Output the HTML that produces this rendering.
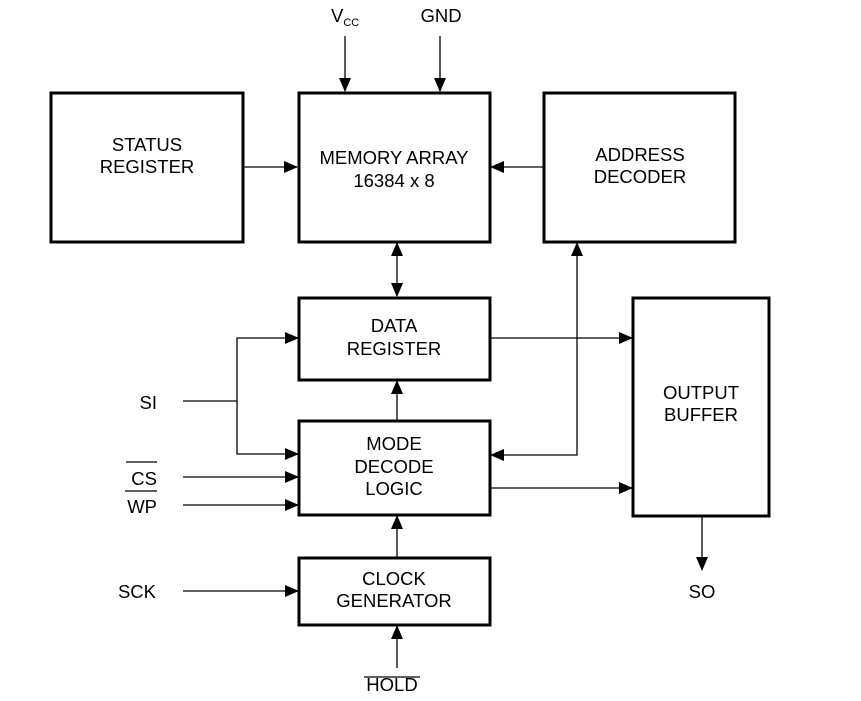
<!DOCTYPE html>
<html><head><style>
html,body{margin:0;padding:0;background:#fff;}
svg{display:block;}
text{font-family:"Liberation Sans",Arial,sans-serif;font-size:18.5px;fill:#000;}
</style></head><body>
<svg width="861" height="701" viewBox="0 0 861 701" xmlns="http://www.w3.org/2000/svg">
<defs>
<marker id="a" markerWidth="14" markerHeight="12" refX="13" refY="6" orient="auto" markerUnits="userSpaceOnUse">
<path d="M0,0 L14,6 L0,12 Z" fill="#000"/></marker>
<marker id="s" markerWidth="14" markerHeight="12" refX="1" refY="6" orient="auto" markerUnits="userSpaceOnUse">
<path d="M14,0 L0,6 L14,12 Z" fill="#000"/></marker>
</defs>
<g fill="none" stroke="#000" stroke-width="3">
<rect x="51" y="93" width="192" height="149"/>
<rect x="299" y="93" width="191" height="149"/>
<rect x="544" y="93" width="191" height="149"/>
<rect x="299" y="298" width="191" height="82"/>
<rect x="299" y="421" width="191" height="94"/>
<rect x="299" y="558" width="191" height="67"/>
<rect x="633" y="298" width="136" height="218"/>
</g>
<g fill="none" stroke="#000" stroke-width="1.3">
<line x1="345" y1="36" x2="345" y2="91" marker-end="url(#a)"/>
<line x1="440" y1="36" x2="440" y2="91" marker-end="url(#a)"/>
<line x1="244" y1="167" x2="297" y2="167" marker-end="url(#a)"/>
<line x1="543" y1="167" x2="491" y2="167" marker-end="url(#a)"/>
<line x1="397" y1="243" x2="397" y2="296" marker-start="url(#s)" marker-end="url(#a)"/>
<line x1="491" y1="338" x2="632" y2="338" marker-end="url(#a)"/>
<line x1="397" y1="420" x2="397" y2="381" marker-end="url(#a)"/>
<polyline points="577,243 577,455 491,455" marker-start="url(#s)" marker-end="url(#a)"/>
<line x1="491" y1="488" x2="632" y2="488" marker-end="url(#a)"/>
<line x1="397" y1="557" x2="397" y2="516" marker-end="url(#a)"/>
<line x1="397" y1="668" x2="397" y2="626" marker-end="url(#a)"/>
<line x1="183" y1="591" x2="298" y2="591" marker-end="url(#a)"/>
<line x1="183" y1="401" x2="237" y2="401"/>
<polyline points="298,338 237,338 237,454 298,454" marker-start="url(#s)" marker-end="url(#a)"/>
<line x1="183" y1="477" x2="298" y2="477" marker-end="url(#a)"/>
<line x1="183" y1="505" x2="298" y2="505" marker-end="url(#a)"/>
<line x1="702" y1="517" x2="702" y2="570" marker-end="url(#a)"/>
<line x1="126" y1="462" x2="157" y2="462"/>
<line x1="125" y1="491" x2="157" y2="491"/>
<line x1="364" y1="677" x2="420" y2="677"/>
</g>
<g text-anchor="middle">
<text x="147" y="151">STATUS</text>
<text x="147" y="173">REGISTER</text>
<text x="394" y="164">MEMORY ARRAY</text>
<text x="394" y="187">16384 x 8</text>
<text x="640" y="161">ADDRESS</text>
<text x="640" y="183">DECODER</text>
<text x="394" y="332">DATA</text>
<text x="394" y="355">REGISTER</text>
<text x="394" y="450">MODE</text>
<text x="394" y="473">DECODE</text>
<text x="394" y="495">LOGIC</text>
<text x="394" y="585">CLOCK</text>
<text x="394" y="607">GENERATOR</text>
<text x="701" y="399">OUTPUT</text>
<text x="701" y="421">BUFFER</text>
<text x="441" y="22">GND</text>
<text x="702" y="598">SO</text>
<text x="392" y="691">HOLD</text>
</g>
<g text-anchor="end">
<text x="157" y="409">SI</text>
<text x="157" y="485">CS</text>
<text x="157" y="513">WP</text>
<text x="156" y="598">SCK</text>
</g>
<text x="331" y="22">V<tspan font-size="11" dy="4">CC</tspan></text>
</svg>
</body></html>
